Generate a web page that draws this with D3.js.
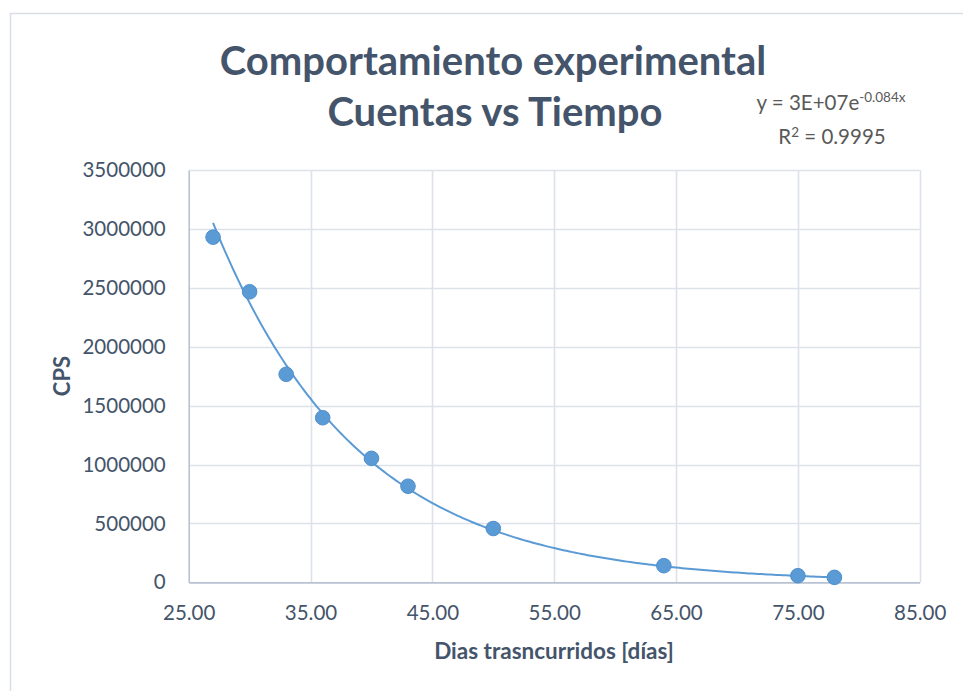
<!DOCTYPE html>
<html>
<head>
<meta charset="utf-8">
<script src="https://cdn.jsdelivr.net/npm/d3@7"></script>
<style>
  html, body { margin: 0; padding: 0; background: #ffffff; }
  svg { display: block; }
</style>
</head>
<body>
<svg id="chart" width="963" height="691"></svg>
<script>
// ---- data ----
const days = [27, 30, 33, 36, 40, 43, 50, 64, 75, 78];
const cps = [2932000, 2468000, 1767000, 1398000, 1053000, 816000, 457000, 141000, 56000, 42000];
const xTicks = [25, 35, 45, 55, 65, 75, 85];
const yTicks = [0, 500000, 1000000, 1500000, 2000000, 2500000, 3000000, 3500000];
const titleLines = ["Comportamiento experimental", "Cuentas vs Tiempo"];
const xTitle = "Dias trasncurridos [días]";
const yTitle = "CPS";
// exponential trendline y = A * e^(-B x)
const trendA = 2.95e7;
const trendB = 0.084;
const eqLabel = "y = 3E+07e";
const eqExp = "-0.084x";
const r2Label = "0.9995";

const svg = d3.select("#chart");
const W = 963, H = 691;
const font = "Lato, 'Open Sans', sans-serif";
const textCol = "#44546A";

// outer chart border
svg.append("rect").attr("x", 10.5).attr("y", 13.5).attr("width", W + 20).attr("height", H + 20)
  .attr("fill", "#fff").attr("stroke", "#D9DEE7").attr("stroke-width", 1.5);

const x = d3.scaleLinear().domain([25, 85]).range([188.7, 919.7]);
const y = d3.scaleLinear().domain([0, 3500000]).range([582.3, 170.3]);

// gridlines
const grid = svg.append("g");
grid.selectAll("line.h").data(yTicks.filter(d => d > 0)).join("line")
  .attr("x1", x(25)).attr("x2", x(85))
  .attr("y1", d => Math.round(y(d)) + 0.5).attr("y2", d => Math.round(y(d)) + 0.5)
  .attr("stroke", "#DDE1E9").attr("stroke-width", 1.6);
grid.selectAll("line.v").data(xTicks.filter(d => d > 25)).join("line")
  .attr("y1", y(0)).attr("y2", y(3500000))
  .attr("x1", d => Math.round(x(d)) + 0.5).attr("x2", d => Math.round(x(d)) + 0.5)
  .attr("stroke", "#DDE1E9").attr("stroke-width", 1.6);

// axes
const yAxis = d3.axisLeft(y).tickValues(yTicks).tickSize(0).tickPadding(23).tickFormat(d3.format("d"));
const gy = svg.append("g").attr("transform", `translate(${x(25)},0)`).call(yAxis);
gy.select(".domain").attr("stroke", "#B9C2D2").attr("stroke-width", 1.6);
gy.selectAll("text").attr("font-family", font).attr("font-size", 20.5).attr("fill", textCol);

const xAxis = d3.axisBottom(x).tickValues(xTicks).tickSize(0).tickPadding(23).tickFormat(d3.format(".2f"));
const gx = svg.append("g").attr("transform", `translate(0,${y(0)})`).call(xAxis);
gx.select(".domain").attr("stroke", "#B9C2D2").attr("stroke-width", 1.8);
gx.selectAll("text").attr("font-family", font).attr("font-size", 20.5).attr("fill", textCol);

// trendline
const tx = d3.range(days[0], days[days.length - 1] + 0.001, 0.25);
const line = d3.line().x(d => x(d)).y(d => y(trendA * Math.exp(-trendB * d))).curve(d3.curveLinear);
svg.append("path").datum(tx).attr("d", line).attr("fill", "none")
  .attr("stroke", "#5B9BD5").attr("stroke-width", 2);

// points
svg.append("g").selectAll("circle").data(days).join("circle")
  .attr("cx", d => x(d)).attr("cy", (d, i) => y(cps[i])).attr("r", 7.3)
  .attr("fill", "#5B9BD5").attr("stroke", "#4E8FCC").attr("stroke-width", 1);

// title
svg.append("text").attr("x", 493).attr("y", 75).attr("text-anchor", "middle")
  .attr("font-family", font).attr("font-weight", "bold").attr("font-size", 40)
  .attr("fill", textCol).text(titleLines[0]);
svg.append("text").attr("x", 495).attr("y", 126).attr("text-anchor", "middle")
  .attr("font-family", font).attr("font-weight", "bold").attr("font-size", 40)
  .attr("fill", textCol).text(titleLines[1]);

// axis titles
svg.append("text").attr("x", 554).attr("y", 659).attr("text-anchor", "middle")
  .attr("font-family", font).attr("font-weight", "bold").attr("font-size", 22.5)
  .attr("fill", textCol).text(xTitle);
svg.append("text").attr("transform", "translate(70,376) rotate(-90)").attr("text-anchor", "middle")
  .attr("font-family", font).attr("font-weight", "bold").attr("font-size", 22)
  .attr("fill", textCol).text(yTitle);

// equation
const eq = svg.append("text").attr("x", 831).attr("y", 110).attr("text-anchor", "middle")
  .attr("font-family", font).attr("font-size", 20.5).attr("fill", "#595959");
eq.append("tspan").text(eqLabel);
eq.append("tspan").attr("dy", -8).attr("font-size", 13.5).text(eqExp);
const r2 = svg.append("text").attr("x", 832).attr("y", 144).attr("text-anchor", "middle")
  .attr("font-family", font).attr("font-size", 20.5).attr("fill", "#595959");
r2.append("tspan").text("R");
r2.append("tspan").attr("dy", -7).attr("font-size", 13.5).text("2");
r2.append("tspan").attr("dy", 7).text(" = " + r2Label);
</script>
</body>
</html>
